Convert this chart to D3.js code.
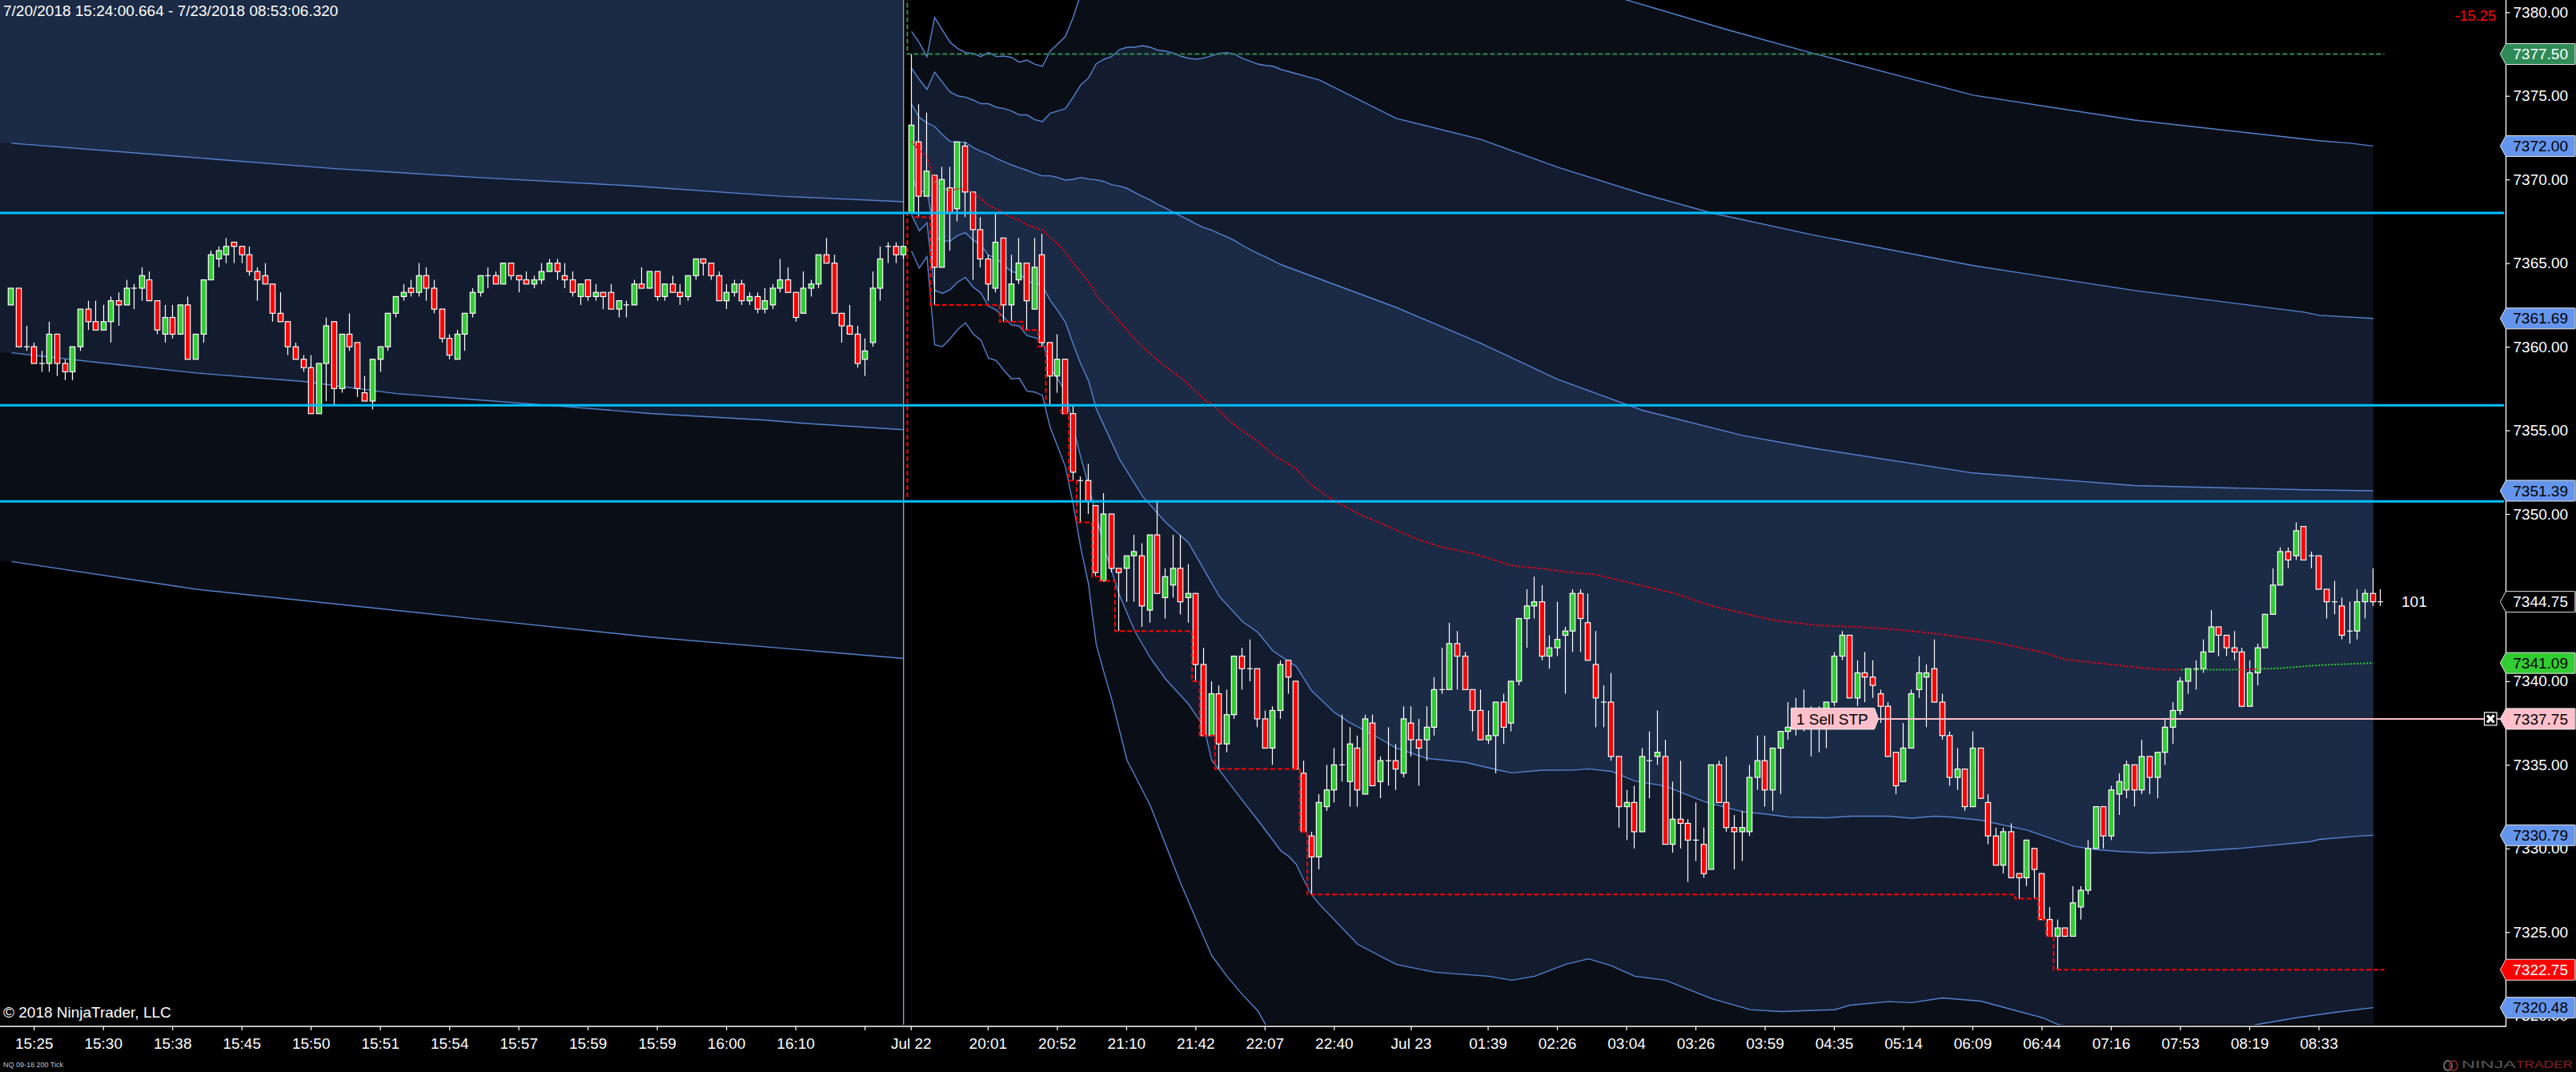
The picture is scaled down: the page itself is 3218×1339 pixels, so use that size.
<!DOCTYPE html>
<html>
<head>
<meta charset="utf-8">
<style>
html, body { margin: 0; padding: 0; background: #000; overflow: hidden; }
text { font-family: "Liberation Sans", Arial, sans-serif; }
</style>
<script src="https://cdn.jsdelivr.net/npm/d3@7"></script>
</head>
<body>
<div id="chart-area"></div>
<script>
var width = 3218;
var height = 1339;

// candles, one entry per bar
var opens = [
    7362.5,7363.5,7360,7360,7359,7359,7360.75,7359,7358.5,7360,
    7362.25,7361.5,7361,7361.5,7362.75,7362.5,7363.5,7363.5,7364,7362.75,
    7360.75,7361.75,7360.75,7362.5,7359.25,7360.75,7364,7365.25,7365.5,7366.25,
    7366,7365.5,7364.5,7364.25,7363.75,7362,7361.5,7360,7359.25,7358.75,
    7356,7359,7361.5,7357.5,7360.75,7360.25,7357.25,7356.75,7359.25,7360,
    7362,7363,7363.5,7363.25,7364.25,7363.5,7362.25,7360.5,7359.25,7360.75,
    7362,7363.25,7364.25,7364.25,7363.75,7365,7364.25,7364,7363.75,7364,
    7364.5,7365,7364.25,7364,7363,7364,7363,7363.25,7363.25,7362.25,
    7362.5,7362.5,7363.75,7363.5,7364.5,7363,7363.75,7363.25,7363,7364.25,
    7365.25,7365,7364.25,7362.75,7363.25,7363.75,7362.75,7363,7362.25,7362.5,
    7363.5,7364,7363.25,7362,7363.5,7363.75,7365.5,7365,7362,7361.25,
    7360.75,7359.25,7360.25,7363.5,7366,7366,7365.5,
    7368,7372.25,7369,
    7370.25,7364.75,7369.5,7368.25,7372,7369.25,7367,7365.25,7363.5,7366.5,
    7362.5,7364,7365,7362.25,7365.5,7360.25,7358.25,7359.25,7356,7352,
    7352,7350.5,7346,7350,7346.75,7346.75,7347.5,7347.5,7344.25,7348.75,
    7345,7345.75,7346.75,7345,7345.25,7341,7336.75,7339.25,7336.25,7338,
    7341.5,7340.75,7340.75,7337.75,7336,7338.25,7341.25,7340,7334.5,7330.75,
    7329.5,7332.5,7333.5,7335,7334,7336,7333.25,7337.5,7334,7335.25,
    7335.25,7334.5,7337.5,7336.5,7336.5,7337.25,7339.5,7339.5,7342.25,7341.5,
    7339.5,7338.25,7336.5,7336.75,7338.75,7337.5,7340,7343.75,7344.5,7344.75,
    7341.5,7342,7342.75,7343,7345.25,7343.5,7341,7338.75,7338.75,7335.5,
    7332.5,7332.75,7331,7335.25,7335.5,7335.5,7330.25,7331.75,7331.5,7330.5,
    7330.25,7328.75,7335,7332.75,7331.25,7331,7331,7334.25,7335.25,7333.5,
    7336,7337,7337.25,7337.5,7338,7337.25,7337.5,7338.75,7341.5,7342.75,
    7339,7340.5,7340.25,7339.25,7338.5,7335.75,7334,7336,7339.5,7340.25,
    7340.75,7338.75,7336.75,7334.25,7334.75,7332.5,7336,7332.75,7330.75,7329,
    7331,7328.5,7328.25,7330,7328.5,7325.75,7324.75,7325.25,7324.75,7326.5,
    7327.5,7330,7332.5,7330.75,7333.25,7333.5,7335,7333.5,7335.5,7334.25,
    7335.75,7337.25,7338.25,7340,7340.75,7340.75,7341.75,7343.25,7342.75,7342,
    7341.75,7338.5,7340.5,7342,7344,7345.75,7347.75,7347.5,7349.25,7347.5,
    7347.5,7345.5,7344.75,7344.5,7343,7343,7344.75,7345.25,7344.75
];
var closes = [
    7363.5,7360,7360,7359,7359,7360.75,7359,7358.5,7360,7362.25,
    7361.5,7361,7361.5,7362.75,7362.5,7363.5,7363.5,7364.25,7362.75,7361,
    7361.75,7360.75,7362.5,7359.25,7360.75,7364,7365.5,7365.75,7366,7366,
    7365.5,7364.5,7364,7363.75,7362,7361.5,7360,7359.25,7358.75,7356,
    7359,7361.25,7357.5,7360.75,7360,7357.5,7356.75,7359.25,7360,7362,
    7363,7363.25,7363.25,7364.25,7363.5,7362.25,7360.5,7359.5,7360.75,7362,
    7363.25,7364.25,7364.25,7363.75,7365,7364.25,7364,7363.75,7364,7364.5,
    7365,7364.5,7364,7363.25,7363.75,7363,7363.25,7363,7362.25,7362.75,
    7362.5,7363.75,7363.5,7364.5,7363,7363.75,7363.25,7363,7364.25,7365.25,
    7365,7364.25,7362.75,7363.25,7363.75,7362.75,7363,7362.25,7362.75,7363.5,
    7364,7363.25,7361.75,7363.5,7363.75,7365.5,7365,7362,7361.25,7360.75,
    7359,7359.75,7363.5,7365.25,7366,7365.5,7366,
    7373.25,7369,7370.5,
    7364.75,7370,7368,7372.25,7369.25,7367,7365.25,7363.75,7366.25,7362.5,
    7363.75,7365,7362.75,7364.75,7360.25,7358.25,7359.25,7356,7352.5,7352,
    7350.75,7346.5,7350,7346.75,7346.5,7347.5,7347.75,7344.5,7348.75,7345.25,
    7346.25,7346.75,7344.75,7345.25,7341,7336.75,7339.25,7336.25,7338,7341.5,
    7340.75,7340.75,7337.75,7336,7338.25,7341,7340.25,7334.75,7331,7329.5,
    7332.75,7333.5,7335,7335,7336.25,7333.5,7337.75,7333.75,7335.25,7335.25,
    7334.75,7337.75,7336.5,7336,7337.25,7339.5,7339.5,7342.25,7341.5,7339.5,
    7338.25,7336.5,7336.75,7338.75,7337.25,7340,7343.75,7344.5,7344.75,7341.5,
    7342,7342.5,7343,7345.25,7343.75,7341.25,7339,7338.75,7335.5,7332.5,
    7332.75,7331,7335.5,7335.25,7335.75,7330.25,7331.75,7331.5,7330.5,7330.5,
    7328.5,7335,7332.75,7331.25,7331,7331.25,7334.25,7335.25,7333.5,7336,
    7337,7337.25,7338.25,7338.25,7337.25,7338,7338.75,7341.5,7342.75,7339,
    7340.5,7340.25,7339.75,7338.5,7335.5,7333.75,7336,7339.25,7340.5,7340.5,
    7338.75,7336.75,7334.25,7334.75,7332.5,7336,7333,7330.75,7329,7331,
    7328.25,7328.25,7330.5,7328.75,7325.75,7324.75,7325.25,7324.75,7326.75,7327.5,
    7330,7332.5,7330.75,7333.5,7334,7335,7333.5,7335.5,7334.25,7335.75,
    7337.25,7338.25,7340,7340.75,7340.75,7341.75,7343.25,7342.75,7342,7341.75,
    7338.5,7340.5,7342,7344,7345.75,7347.75,7347.25,7349,7347.25,7347.5,
    7345.5,7344.75,7344.75,7342.75,7343,7344.75,7345.25,7344.75,7344.75
];
var highs = [
    7363.5,7363.5,7361.25,7360.25,7359.75,7361.5,7360.75,7359.25,7360,7362.25,
    7362.75,7362.75,7362.5,7363,7363.25,7364,7363.75,7364.75,7364.5,7362.75,
    7362.5,7362.5,7362.5,7363,7360.75,7364,7365.75,7366,7366.5,7366.25,
    7366,7366,7364.75,7365,7363.75,7363.25,7361.5,7360.25,7359.5,7359.5,
    7359,7361.75,7361.5,7360.75,7362,7360.25,7358.25,7359.25,7360,7362,
    7363,7363.75,7364,7365,7364.75,7364,7362.25,7360.75,7361,7362,
    7363.5,7364.25,7364.75,7364.5,7365,7365,7364.25,7364.5,7364.25,7365,
    7365.25,7365.25,7365,7364.5,7363.75,7364,7363.75,7363.25,7363.75,7362.75,
    7362.75,7364,7364.75,7364.5,7364.5,7363.75,7364.25,7363.75,7364.25,7365.25,
    7365.25,7365,7364.5,7363.75,7364,7364,7363.25,7363.25,7363.5,7363.75,
    7365.25,7364.75,7363.25,7364.5,7364,7365.5,7366.5,7365.5,7362,7362.5,
    7361.25,7360.5,7364.5,7366,7366.25,7366.25,7366,
    7377.5,7374.5,7374,
    7370.25,7370.75,7370.75,7372.25,7372.25,7369.25,7367.75,7365.5,7368,7366.5,
    7365.5,7366.5,7365,7366.5,7366.75,7360.25,7360.75,7359.25,7356.5,7352.25,
    7353,7350.5,7351.25,7350,7346.75,7347.5,7348.75,7348.25,7348.75,7350.75,
    7346.75,7348.75,7348.75,7347,7345.25,7342,7340,7339.75,7339.5,7341.5,
    7342,7342.5,7340.75,7338.25,7338.5,7341.25,7341.25,7340,7335.25,7331,
    7333.25,7335,7336,7338,7337.25,7336.75,7338,7338,7335.5,7337.25,
    7336.25,7338.5,7338.5,7337.75,7338.5,7340.25,7342,7343.5,7343,7341.75,
    7339.5,7339.5,7338.25,7338.75,7339.25,7340,7343.75,7345.5,7346.25,7345.75,
    7342.75,7344.75,7343.25,7345.5,7345.5,7345.25,7343,7339.75,7340.5,7335.5,
    7333.5,7333.75,7336,7337,7338.25,7336.5,7334,7335.25,7331.75,7332.75,
    7331.25,7335,7335.25,7335.5,7332,7332.25,7335,7336.75,7336.75,7336,
    7337,7338.75,7339,7339.5,7338.5,7338.5,7338.75,7341.75,7343,7342.75,
    7341.25,7341.75,7341.25,7339.5,7338.75,7335.75,7337.5,7339.5,7341.5,7341,
    7342.5,7339.25,7337,7336,7334.75,7337,7336,7333.25,7331.25,7331.25,
    7331.5,7328.5,7330.5,7330,7328.5,7326.5,7325.75,7325.25,7327.75,7327.75,
    7330.5,7332.5,7332.5,7333.75,7334.5,7335.25,7335,7336.5,7335.5,7335.75,
    7337.75,7338.75,7340.25,7340.75,7341.25,7342.5,7344.25,7343.25,7342.75,7343,
    7342,7341.25,7342.25,7344,7346.75,7348,7348,7349.5,7349.25,7347.75,
    7347.5,7345.5,7346,7345,7344.75,7345.5,7345.5,7346.75,7345.5
];
var lows = [
    7362.5,7360,7359.75,7359,7358.5,7358.5,7358.25,7358,7358,7359.75,
    7361,7361,7361,7360.25,7361.25,7362.5,7362.25,7362.75,7362.75,7360.75,
    7360.25,7360.5,7360.75,7359.25,7359.25,7360.25,7364,7364.75,7365,7365,
    7365,7364.25,7362.75,7363.75,7361.5,7361.5,7359.5,7359.25,7358.5,7356,
    7356,7356.75,7356.5,7357.25,7359.75,7357,7356.75,7356.25,7358.5,7359.75,
    7361.75,7362.75,7363,7363,7362.75,7362,7360.25,7359.25,7359.25,7359.75,
    7361.75,7363,7363.5,7363.75,7363.75,7364,7363.25,7363.75,7363.5,7363.75,
    7364.5,7364,7363.5,7363,7362.5,7362.75,7362.75,7362.25,7362.25,7361.75,
    7361.75,7362.5,7363.5,7363.5,7362.75,7362.75,7363.25,7362.5,7362.75,7364,
    7364.25,7364,7362.75,7362.25,7363,7362.5,7362.5,7362,7362,7362.25,
    7363.25,7363.25,7361.5,7362,7363,7363.5,7365,7362,7360.25,7360.75,
    7358.75,7358.25,7360,7362.75,7365,7365,7365.25,
    7368,7367.75,7369,
    7362.5,7364.75,7365.75,7367.5,7367.75,7364,7364.75,7362.75,7363.25,7361.5,
    7361.5,7363.75,7361,7362.25,7360,7356.5,7357.25,7356,7352,7349.5,
    7350,7346.25,7346,7346.5,7343,7344.75,7344.75,7343.25,7343.5,7345.25,
    7343.75,7345,7344,7343.5,7340,7336.75,7336.75,7334.75,7335.75,7337.75,
    7339.5,7340,7337.25,7336,7335,7337.75,7339.25,7334.75,7331,7327.25,
    7328.75,7332.25,7332.75,7334,7332.5,7332.5,7333.25,7333.75,7333,7333.75,
    7333.5,7334.25,7335.5,7333.75,7335.25,7336.75,7339.25,7339.5,7339.5,7339.5,
    7337,7336.5,7336.25,7334.5,7336.25,7337,7339.75,7342,7343.75,7341.25,
    7340.75,7341.5,7339.25,7341.75,7341.75,7341.25,7337.25,7337.25,7335.25,7331.25,
    7330.5,7330,7331,7333,7335,7330.25,7329.75,7330,7328,7329.25,
    7328.25,7328.75,7332.75,7331,7328.75,7329.25,7330.75,7333.5,7332.5,7332.25,
    7333.25,7336.5,7336.75,7337,7335.5,7335.75,7336,7338.5,7341.25,7339,
    7338.5,7338.75,7339,7337.5,7335.5,7333.25,7334,7336,7339,7337.25,
    7338.75,7336.5,7333.75,7333.5,7332.25,7332.5,7333,7330.25,7329,7328.5,
    7328.25,7327,7327.75,7327,7325.75,7324.75,7322.75,7324.75,7324.75,7325.75,
    7327.25,7330,7330,7330.5,7332,7333,7332.5,7333.25,7333.25,7333,
    7335,7336.25,7338,7339.25,7339.5,7340.5,7341.75,7341.5,7341.5,7341.25,
    7338.5,7338.5,7339.75,7342,7344,7345.75,7346.75,7347.25,7347.25,7346.75,
    7345.5,7343.75,7344,7342.5,7342.25,7342.5,7343.75,7344.5,7344.5
];

// vwap bands of the first session, [bar, price]
var oldUpper = [[0,7372.17],[21,7371.41],[42,7370.65],[61,7370.11],[80,7369.64],[100,7369],[116,7368.67]];
var oldMiddle = [[0,7359.64],[11,7359.07],[24,7358.43],[38,7357.92],[50,7357.2],[61,7356.81],[72,7356.42],[83,7356.01],[98,7355.61],[103,7355.42],[116,7355.04]];
var oldLower = [[0,7347.16],[24,7345.5],[61,7343.7],[83,7342.64],[116,7341.36]];

// vwap and bands of the second session, [bar, price]
var plus3 = [[117,7378.85],[118,7378.18],[119,7377.35],[120,7379.68],[121,7378.94],[122,7378.21],[123,7377.83],[124,7377.59],[125,7377.54],[126,7377.35],[127,7377.59],[128,7377.35],[129,7377.38],[130,7377.3],[131,7377.01],[132,7377.14],[133,7376.9],[134,7376.76],[135,7377.67],[136,7378.1],[137,7378.55],[138,7379.69],[139,7381.1],[160,7385],[190,7383],[210,7380.73],[223,7378.96],[234,7377.57],[255,7375.04],[276,7373.55],[300,7372.32],[304,7372.17],[307,7372]];
var plus2 = [[117,7376.66],[118,7375.98],[119,7375.39],[120,7376.42],[121,7375.82],[122,7375.23],[123,7375],[124,7374.92],[125,7374.75],[126,7374.53],[127,7374.53],[128,7374.32],[129,7374.24],[130,7374.1],[131,7373.86],[132,7373.86],[133,7373.58],[134,7373.46],[135,7373.95],[136,7374.1],[137,7374.24],[138,7374.92],[139,7375.66],[140,7376.07],[141,7376.92],[142,7377.19],[143,7377.35],[144,7377.76],[145,7377.91],[146,7377.91],[147,7378],[148,7377.91],[149,7377.73],[150,7377.68],[151,7377.57],[152,7377.37],[153,7377.25],[154,7377.19],[155,7377.27],[156,7377.4],[157,7377.54],[158,7377.59],[159,7377.48],[160,7377.24],[161,7377.08],[162,7376.9],[163,7376.82],[164,7376.77],[165,7376.58],[170,7375.95],[180,7373.65],[191,7372.4],[201,7370.73],[212,7369.15],[221,7368],[234,7366.7],[255,7364.85],[276,7363.36],[298,7362.07],[300,7361.88],[307,7361.69]];
var plus1 = [[117,7374.51],[118,7373.71],[119,7373.39],[120,7373.17],[121,7372.68],[122,7372.28],[123,7372.23],[124,7372.23],[125,7371.91],[126,7371.69],[127,7371.51],[128,7371.26],[129,7371.07],[130,7370.87],[131,7370.7],[132,7370.55],[133,7370.36],[134,7370.22],[135,7370.22],[136,7370.12],[137,7369.96],[138,7370.01],[139,7370.12],[140,7370.03],[141,7369.98],[142,7369.88],[143,7369.69],[144,7369.61],[145,7369.47],[146,7369.23],[147,7368.99],[148,7368.78],[149,7368.51],[150,7368.29],[151,7368.05],[152,7367.81],[153,7367.59],[154,7367.33],[155,7367.12],[156,7366.98],[157,7366.76],[158,7366.57],[159,7366.34],[160,7366.06],[161,7365.82],[162,7365.58],[163,7365.37],[164,7365.15],[165,7364.91],[180,7362.35],[191,7360.2],[201,7358.05],[212,7356.2],[225,7354.7],[234,7353.95],[255,7352.45],[276,7351.7],[298,7351.45],[307,7351.39]];
var vwap = [[117,7372.28],[118,7371.72],[119,7371.37],[120,7369.88],[121,7369.49],[122,7369.33],[123,7369.44],[124,7369.44],[125,7369.17],[126,7368.85],[127,7368.45],[128,7368.24],[129,7367.97],[130,7367.73],[131,7367.56],[132,7367.29],[133,7367.13],[134,7366.98],[135,7366.54],[136,7366.14],[137,7365.66],[138,7365.02],[139,7364.46],[140,7363.9],[141,7363.11],[142,7362.55],[143,7362.07],[144,7361.51],[145,7361.03],[146,7360.47],[147,7360],[148,7359.6],[149,7359.2],[150,7358.8],[151,7358.48],[152,7358.16],[153,7357.76],[154,7357.29],[155,7356.84],[156,7356.57],[159,7355.3],[162,7354.34],[164,7353.54],[167,7352.7],[169,7351.71],[172,7350.78],[175,7350.03],[180,7349.04],[183,7348.44],[186,7348.01],[190,7347.64],[193,7347.21],[195,7346.92],[199,7346.73],[202,7346.54],[206,7346.37],[211,7345.81],[216,7345.28],[221,7344.5],[226,7343.97],[229,7343.65],[235,7343.33],[240,7343.25],[245,7343.09],[250,7342.85],[257,7342.4],[264,7341.73],[267,7341.3],[271,7341.1],[274,7340.94],[279,7340.7],[282,7340.69],[288,7340.69],[290,7340.7],[292,7340.73],[295,7340.78],[299,7340.93],[302,7341],[307,7341.09]];
var minus1 = [[117,7370.12],[118,7369.2],[119,7369.37],[120,7366.6],[121,7366.32],[122,7366.32],[123,7366.65],[124,7366.82],[125,7366.38],[126,7366.09],[127,7365.47],[128,7365.29],[129,7364.89],[130,7364.49],[131,7364.4],[132,7363.9],[133,7363.78],[134,7363.66],[135,7362.79],[136,7362.15],[137,7361.46],[138,7360.16],[139,7358.96],[140,7357.96],[141,7356.3],[144,7353.3],[147,7351.07],[150,7349.51],[153,7348.28],[157,7345.08],[160,7343.57],[162,7342.93],[164,7341.8],[167,7340.89],[169,7339.43],[172,7338.12],[174,7337.51],[177,7336.8],[180,7336],[184,7335.39],[189,7335.15],[193,7334.72],[195,7334.52],[199,7334.68],[203,7334.69],[205,7334.76],[208,7334.61],[211,7334.04],[215,7333.73],[220,7332.81],[225,7332.2],[228,7332.06],[231,7331.88],[236,7331.83],[239,7331.93],[244,7331.93],[247,7331.81],[250,7331.93],[252,7331.88],[256,7331.69],[262,7331.1],[266,7330.46],[268,7330.14],[271,7329.93],[274,7329.82],[278,7329.73],[283,7329.81],[290,7330.02],[293,7330.15],[299,7330.42],[300,7330.54],[305,7330.74],[307,7330.79]];
var minus2 = [[117,7367.89],[118,7366.93],[119,7367.41],[120,7363.38],[121,7363.19],[122,7363.41],[123,7363.87],[124,7364.14],[125,7363.57],[126,7363.22],[127,7362.42],[128,7362.2],[129,7361.75],[130,7361.3],[131,7361.24],[132,7360.67],[133,7360.55],[134,7360.35],[135,7358.72],[136,7358.08],[137,7357.29],[138,7355.2],[139,7353.38],[140,7351.7],[141,7349.95],[142,7348.04],[144,7345.17],[146,7343.01],[148,7341.42],[150,7340.14],[153,7338.63],[155,7337.27],[156,7335.28],[160,7332.88],[162,7331.7],[165,7329.86],[166,7329.54],[167,7329.06],[168,7328.1],[169,7327.23],[170,7326.67],[175,7324.27],[180,7323.07],[185,7322.6],[192,7322.36],[195,7322.12],[198,7322.36],[202,7323.07],[205,7323.4],[208,7322.98],[211,7322.36],[215,7322.12],[221,7321.02],[226,7320.36],[230,7320.25],[237,7320.36],[239,7320.63],[244,7320.84],[247,7320.78],[251,7321.06],[256,7320.87],[264,7319.88],[266,7319.48],[275,7318.9],[283,7318.8],[292,7319.48],[297,7319.88],[302,7320.2],[307,7320.48]];
var minus3 = [[117,7365.71],[118,7364.7],[119,7365.39],[120,7360.11],[121,7360],[122,7360.47],[123,7361.03],[124,7361.43],[125,7360.76],[126,7360.4],[127,7359.31],[128,7359.17],[129,7358.59],[130,7358.08],[131,7358.11],[132,7357.35],[133,7357.29],[134,7357.09],[135,7355.2],[137,7352.82],[138,7350.59],[139,7347.96],[140,7345.8],[141,7342.2],[142,7340.54],[143,7338.95],[144,7337.11],[145,7335.28],[148,7332.6],[152,7327.9],[156,7323.6],[158,7322.36],[160,7321.26],[162,7320.3],[163,7319.48],[170,7315],[307,7310.18]];

// bars where the vwap plots green instead of red
var vwapGreen = [[120,122],[282,290],[292,307]];

var levelLines = [7368, 7356.5, 7350.75];
var stopPrice = 7337.75;
var lastPrice = 7344.75;
var priorSessionLow = 7351;
var priorSessionHigh = 7381;
var sessionStart = 117;

var priceTicks = [7380,7375,7370,7365,7360,7355,7350,7345,7340,7335,7330,7325,7320];
var timeBars = [3,12,21,30,39,48,57,66,75,84,93,102,111,117,127,136,145,154,163,172,182,192,201,210,219,228,237,246,255,264,273,282,291,300];
var timeLabels = ["15:25","15:30","15:38","15:45","15:50","15:51","15:54","15:57","15:59","15:59","16:00","16:10","","Jul 22","20:01","20:52","21:10","21:42","22:07","22:40","Jul 23","01:39","02:26","03:04","03:26","03:59","04:35","05:14","06:09","06:44","07:16","07:53","08:19","08:33"];

var flagPrices = [7377.5,7372,7361.69,7351.39,7344.75,7341.09,7337.75,7330.79,7322.75,7320.48];
var flagFills = ["#2e8b57","#6495ed","#6495ed","#6495ed","#000000","#32cd32","#ffc0cb","#6495ed","#ff0000","#6495ed"];
var flagTexts = ["#ffffff","#000000","#000000","#000000","#ffffff","#000000","#000000","#000000","#ffffff","#000000"];

var axisX = 3130.5;
var chartBottom = 1280;

var svg = d3.select("#chart-area").append("svg")
    .attr("width", width)
    .attr("height", height)
    .style("display", "block");

svg.append("rect").attr("width", width).attr("height", height).attr("fill", "#000");

svg.append("clipPath").attr("id", "plot-clip")
    .append("rect").attr("x", 0).attr("y", 0).attr("width", axisX).attr("height", chartBottom);

var x = d3.scaleLinear().domain([0, 308]).range([13.4, 2973.3]);
var y = d3.scaleLinear().domain([7380, 7320]).range([15.3, 15.3 + 60 * 20.89]);

var plot = svg.append("g").attr("clip-path", "url(#plot-clip)");

function bandX(d) { return x(d[0]) + 1; }
function bandY(d) { return y(d[1]); }

var bandArea = d3.area().x(bandX).y0(chartBottom).y1(bandY);
var bandLine = d3.line().x(bandX).y(bandY);

function fillBelow(data, color) {
    plot.append("path").attr("d", bandArea(data)).attr("fill", color);
}

function drawBand(data) {
    plot.append("path")
        .attr("d", bandLine(data))
        .attr("fill", "none")
        .attr("stroke", "#5682d0")
        .attr("stroke-width", 1.4);
}

// first session runs off the left edge of the window
function toLeftEdge(data) {
    return [[x.invert(-1), data[0][1]]].concat(data);
}

var bandDark = "#0a0f17";
var bandMid = "#131c2f";
var bandLight = "#1b2a45";

plot.append("rect").attr("x", 0).attr("y", 0).attr("width", x(116) + 1).attr("height", chartBottom).attr("fill", bandLight);
fillBelow(toLeftEdge(oldUpper), bandMid);
fillBelow(toLeftEdge(oldMiddle), bandDark);
fillBelow(toLeftEdge(oldLower), "#000");

fillBelow(plus3, bandDark);
fillBelow(plus2, bandMid);
fillBelow(plus1, bandLight);
fillBelow(minus1, bandMid);
fillBelow(minus2, bandDark);
fillBelow(minus3, "#000");

[oldUpper, oldMiddle, oldLower, plus3, plus2, plus1, minus1, minus2, minus3].forEach(drawBand);

// session break
plot.append("line")
    .attr("x1", x(116) + 0.5).attr("x2", x(116) + 0.5)
    .attr("y1", 0).attr("y2", chartBottom)
    .attr("stroke", "#9aa3b2")
    .attr("stroke-width", 1.3);

// candles
var bars = d3.range(opens.length);

plot.selectAll(".wick").data(bars).enter().append("line")
    .attr("class", "wick")
    .attr("x1", function(d) { return Math.round(x(d)) + 0.5; })
    .attr("x2", function(d) { return Math.round(x(d)) + 0.5; })
    .attr("y1", function(d) { return y(highs[d]); })
    .attr("y2", function(d) { return y(lows[d]); })
    .attr("stroke", "#fff")
    .attr("stroke-width", 1.2);

plot.selectAll(".body").data(bars).enter().append("rect")
    .attr("class", "body")
    .attr("x", function(d) { return Math.round(x(d)) - 2.7; })
    .attr("y", function(d) { return y(Math.max(opens[d], closes[d])); })
    .attr("width", function(d) { return opens[d] === closes[d] ? 0 : 6.4; })
    .attr("height", function(d) { return Math.abs(y(opens[d]) - y(closes[d])); })
    .attr("fill", function(d) { return closes[d] > opens[d] ? "#32cd32" : "#ff0000"; })
    .attr("stroke", "#fff")
    .attr("stroke-width", 1.2);

plot.selectAll(".doji").data(bars.filter(function(d) { return opens[d] === closes[d]; })).enter().append("line")
    .attr("class", "doji")
    .attr("x1", function(d) { return Math.round(x(d)) - 3; })
    .attr("x2", function(d) { return Math.round(x(d)) + 4; })
    .attr("y1", function(d) { return y(opens[d]); })
    .attr("y2", function(d) { return y(opens[d]); })
    .attr("stroke", "#fff")
    .attr("stroke-width", 1.2);

// vwap, cut into runs of one colour
function isVwapGreen(a, b) {
    return vwapGreen.some(function(r) { return a[0] >= r[0] && b[0] <= r[1]; });
}

var vwapLine = d3.line().x(bandX).y(bandY);
var runs = [];
d3.pairs(vwap).forEach(function(p) {
    var green = isVwapGreen(p[0], p[1]);
    var last = runs[runs.length - 1];
    if (last && last.green === green) {
        last.points.push(p[1]);
    } else {
        runs.push({ green: green, points: [p[0], p[1]] });
    }
});

runs.forEach(function(r) {
    plot.append("path")
        .attr("d", vwapLine(r.points))
        .attr("fill", "none")
        .attr("stroke", r.green ? "#2fd02f" : "#f00016")
        .attr("stroke-width", 2)
        .attr("stroke-dasharray", "2,2");
});

// session low and high stairs
var sessionBars = bars.filter(function(d) { return d >= sessionStart; });
var lowStairs = [[sessionStart, priorSessionLow]];
var highStairs = [[sessionStart, priorSessionHigh]];
var runLow = Infinity;
var runHigh = -Infinity;
sessionBars.forEach(function(d) {
    runLow = Math.min(runLow, lows[d]);
    runHigh = Math.max(runHigh, highs[d]);
    lowStairs.push([d, runLow]);
    highStairs.push([d, runHigh]);
});
lowStairs.push([opens.length, runLow]);
highStairs.push([opens.length, runHigh]);

var stairLine = d3.line()
    .x(function(d) { return x(d[0]) - 4.3; })
    .y(function(d) { return y(d[1]); })
    .curve(d3.curveStepAfter);

plot.append("path").attr("d", stairLine(lowStairs))
    .attr("fill", "none").attr("stroke", "#ff0000").attr("stroke-width", 2).attr("stroke-dasharray", "6,3");
plot.append("path").attr("d", stairLine(highStairs))
    .attr("fill", "none").attr("stroke", "#2e8b57").attr("stroke-width", 2).attr("stroke-dasharray", "6,3");

// horizontal levels
svg.selectAll(".level").data(levelLines).enter().append("line")
    .attr("class", "level")
    .attr("x1", 0).attr("x2", 3128)
    .attr("y1", function(d) { return y(d); })
    .attr("y2", function(d) { return y(d); })
    .attr("stroke", "#00bfff")
    .attr("stroke-width", 3);

// price axis
var priceAxis = d3.axisRight(y)
    .tickValues(priceTicks)
    .tickFormat(d3.format(".2f"))
    .tickSize(5)
    .tickPadding(4);

var priceG = svg.append("g").attr("transform", "translate(" + axisX + ",0)").call(priceAxis);
priceG.select(".domain").remove();
priceG.selectAll("line").attr("stroke", "#fff").attr("stroke-width", 1.2);
priceG.selectAll("text").attr("fill", "#fff").attr("font-size", 19).attr("font-family", "Liberation Sans");

svg.append("line").attr("x1", axisX).attr("x2", axisX).attr("y1", 0).attr("y2", 1282.5)
    .attr("stroke", "#fff").attr("stroke-width", 1.3);

// time axis, ticks sit on bars
var timeAxis = d3.axisBottom(x)
    .tickValues(timeBars)
    .tickFormat(function(d, i) { return timeLabels[i]; })
    .tickSize(5)
    .tickPadding(10);

var timeG = svg.append("g").attr("transform", "translate(0,1282)").call(timeAxis);
timeG.select(".domain").remove();
timeG.selectAll("line").attr("stroke", "#fff").attr("stroke-width", 1.2);
timeG.selectAll("text").attr("fill", "#fff").attr("font-size", 19).attr("font-family", "Liberation Sans");

svg.append("line").attr("x1", 0).attr("x2", axisX).attr("y1", 1282).attr("y2", 1282)
    .attr("stroke", "#fff").attr("stroke-width", 1.3);

// stop order line and tag
svg.append("line")
    .attr("x1", 2346).attr("x2", axisX)
    .attr("y1", y(stopPrice)).attr("y2", y(stopPrice))
    .attr("stroke", "#ffc0cb").attr("stroke-width", 2);

var stopY = y(stopPrice);
svg.append("path")
    .attr("d", d3.line()([[2237.5, stopY - 13.5], [2341.5, stopY - 13.5], [2346.5, stopY], [2341.5, stopY + 13], [2237.5, stopY + 13]]) + "Z")
    .attr("fill", "#ffc0cb").attr("stroke", "#e8e8e8").attr("stroke-width", 1);
svg.append("text")
    .attr("x", 2244).attr("y", stopY).attr("dy", "0.35em")
    .attr("font-size", 19).attr("fill", "#000")
    .text("1 Sell STP");

svg.append("rect").attr("x", 3103.5).attr("y", stopY - 8).attr("width", 15.5).attr("height", 16)
    .attr("fill", "#000").attr("stroke", "#fff").attr("stroke-width", 1.2);
svg.append("path")
    .attr("d", "M3107," + (stopY - 4.5) + "L3115.5," + (stopY + 4.5) + "M3115.5," + (stopY - 4.5) + "L3107," + (stopY + 4.5))
    .attr("stroke", "#fff").attr("stroke-width", 3.4).attr("fill", "none");

// price flags over the axis
var flags = svg.selectAll(".flag").data(flagPrices).enter().append("g").attr("class", "flag")
    .attr("transform", function(d) { return "translate(0," + y(d) + ")"; });

flags.append("path")
    .attr("d", d3.line()([[3123.3, 0], [3130.5, -13], [3216.7, -13], [3216.7, 13], [3130.5, 13]]) + "Z")
    .attr("fill", function(d, i) { return flagFills[i]; })
    .attr("stroke", "#e6e6e6")
    .attr("stroke-width", 1);
flags.append("rect").attr("x", 3216.7).attr("y", -13).attr("width", 1.3).attr("height", 26).attr("fill", "#888");
flags.append("text")
    .attr("x", 3139.3).attr("dy", "0.35em")
    .attr("font-size", 19)
    .attr("fill", function(d, i) { return flagTexts[i]; })
    .text(function(d) { return d3.format(".2f")(d); });

// plain texts
svg.append("text").attr("x", 4).attr("y", 13).attr("dy", "0.35em").attr("font-size", 19).attr("fill", "#fff")
    .text("7/20/2018 15:24:00.664 - 7/23/2018 08:53:06.320");
svg.append("text").attr("x", 3118).attr("y", 20).attr("dy", "0.35em").attr("font-size", 18.2).attr("fill", "#ff0000")
    .attr("text-anchor", "end").text("-15.25");
svg.append("text").attr("x", 3000).attr("y", y(lastPrice)).attr("dy", "0.35em").attr("font-size", 19).attr("fill", "#fff")
    .text("101");
svg.append("text").attr("x", 4).attr("y", 1264).attr("dy", "0.35em").attr("font-size", 19).attr("fill", "#fff")
    .text("\u00a9 2018 NinjaTrader, LLC");
svg.append("text").attr("x", 4).attr("y", 1330).attr("dy", "0.35em").attr("font-size", 9).attr("fill", "#c4c4c4")
    .text("NQ 09-18 200 Tick");

// logo
var logo = svg.append("g");
logo.append("ellipse").attr("cx", 3058).attr("cy", 1331).attr("rx", 5).attr("ry", 6)
    .attr("fill", "none").attr("stroke", "#6a6a6a").attr("stroke-width", 2);
logo.append("ellipse").attr("cx", 3065).attr("cy", 1331).attr("rx", 5).attr("ry", 6)
    .attr("fill", "none").attr("stroke", "#7a1f1f").attr("stroke-width", 2);
logo.append("text").attr("x", 3075).attr("y", 1330).attr("dy", "0.35em").attr("font-size", 12)
    .attr("textLength", 68).attr("lengthAdjust", "spacingAndGlyphs").attr("fill", "#5a5a5a").text("NINJA");
logo.append("text").attr("x", 3143).attr("y", 1330).attr("dy", "0.35em").attr("font-size", 12)
    .attr("textLength", 71).attr("lengthAdjust", "spacingAndGlyphs").attr("fill", "#8b2020").text("TRADER");
</script>
</body>
</html>
